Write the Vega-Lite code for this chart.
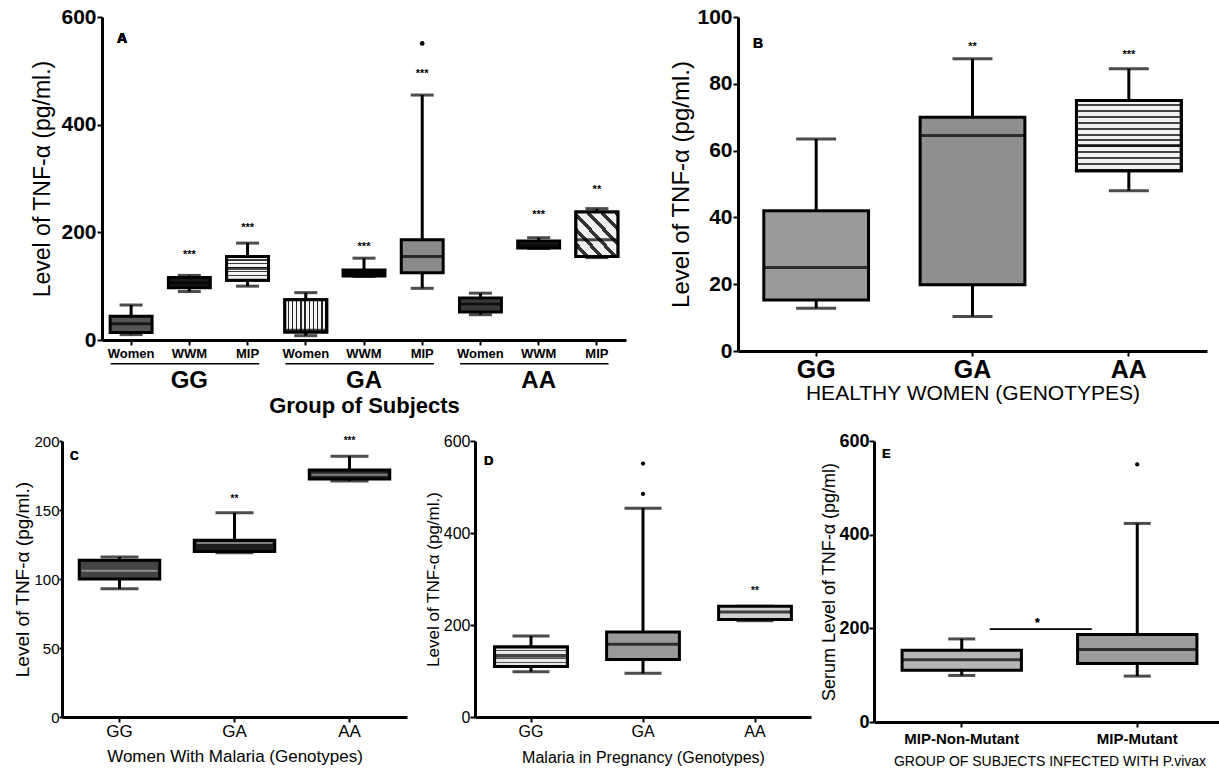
{
  "$schema": "https://vega.github.io/schema/vega-lite/v6.json",
  "background": "white",
  "padding": {"left": 13, "top": 6, "right": 0, "bottom": 0},
  "config": {
    "view": {"stroke": null},
    "font": "Liberation Sans",
    "axis": {
      "labelFont": "Liberation Sans", "titleFont": "Liberation Sans",
      "domainColor": "#000", "domainWidth": 3, "tickColor": "#000", "tickWidth": 2, "tickSize": 5,
      "labelColor": "#000", "titleColor": "#000", "grid": false, "titleFontWeight": "normal", "labelPadding": 1
    },
    "axisX": {"labelAngle": 0},
    "text": {"font": "Liberation Sans", "color": "#000"}
  },
  "datasets": {
    "A": [
      {"cat": "GG Women", "min": 10, "q1": 14, "med": 30, "q3": 44, "max": 65},
      {"cat": "GG WWM", "min": 90, "q1": 97, "med": 106, "q3": 116, "max": 120},
      {"cat": "GG MIP", "min": 100, "q1": 111, "med": 133, "q3": 155, "max": 180},
      {"cat": "GA Women", "min": 8, "q1": 15, "med": 18, "q3": 75, "max": 88},
      {"cat": "GA WWM", "min": 118, "q1": 119, "med": 124, "q3": 130, "max": 152},
      {"cat": "GA MIP", "min": 96, "q1": 125, "med": 155, "q3": 186, "max": 455},
      {"cat": "AA Women", "min": 47, "q1": 52, "med": 67, "q3": 78, "max": 87},
      {"cat": "AA WWM", "min": 170, "q1": 171, "med": 176, "q3": 184, "max": 190},
      {"cat": "AA MIP", "min": 153, "q1": 155, "med": 186, "q3": 238, "max": 244}
    ],
    "A_out": [{"cat": "GA MIP", "v": 551}],
    "A_stars": [
      {"cat": "GG WWM", "v": 158, "s": "***"},
      {"cat": "GG MIP", "v": 208, "s": "***"},
      {"cat": "GA WWM", "v": 173, "s": "***"},
      {"cat": "GA MIP", "v": 495, "s": "***"},
      {"cat": "AA WWM", "v": 232, "s": "***"},
      {"cat": "AA MIP", "v": 279, "s": "**"}
    ],
    "A_groups": [{"g": "GG"}, {"g": "GA"}, {"g": "AA"}],
    "B": [
      {"cat": "GG", "min": 12.8, "q1": 15.3, "med": 25, "q3": 42, "max": 63.5},
      {"cat": "GA", "min": 10.3, "q1": 19.8, "med": 64.5, "q3": 70, "max": 87.5},
      {"cat": "AA", "min": 48, "q1": 54, "med": 61.5, "q3": 75, "max": 84.5}
    ],
    "B_stars": [
      {"cat": "GA", "v": 91, "s": "**"},
      {"cat": "AA", "v": 88.5, "s": "***"}
    ],
    "C": [
      {"cat": "GG", "min": 93, "q1": 100, "med": 106, "q3": 113.5, "max": 116},
      {"cat": "GA", "min": 119, "q1": 120, "med": 126, "q3": 128, "max": 148},
      {"cat": "AA", "min": 171, "q1": 172.5, "med": 175.5, "q3": 179, "max": 189}
    ],
    "C_stars": [
      {"cat": "GA", "v": 158, "s": "**"},
      {"cat": "AA", "v": 200, "s": "***"}
    ],
    "D": [
      {"cat": "GG", "min": 98.5, "q1": 110, "med": 132, "q3": 152, "max": 176},
      {"cat": "GA", "min": 95, "q1": 125, "med": 158, "q3": 185, "max": 454},
      {"cat": "AA", "min": 209, "q1": 212, "med": 228, "q3": 241, "max": 241}
    ],
    "D_out": [{"cat": "GA", "v": 551}, {"cat": "GA", "v": 485}],
    "D_stars": [{"cat": "AA", "v": 273, "s": "**"}],
    "E": [
      {"cat": "MIP-Non-Mutant", "min": 99.4, "q1": 110.6, "med": 133, "q3": 153, "max": 177.4},
      {"cat": "MIP-Mutant", "min": 98, "q1": 125, "med": 155, "q3": 186.6, "max": 424}
    ],
    "E_out": [{"cat": "MIP-Mutant", "v": 550}]
  },
  "spacing": 16,
  "resolve": {"scale": {"x": "independent", "y": "independent", "fill": "independent"}},
  "vconcat": [
    {
      "spacing": 43,
      "resolve": {"scale": {"x": "independent", "y": "independent", "fill": "independent"}},
      "hconcat": [
        {
          "spacing": -32,
          "resolve": {"scale": {"x": "independent", "y": "independent", "fill": "independent"}},
          "hconcat": [
            {"width": 1, "height": 1, "data": {"values": [{}]}, "mark": {"type": "text", "text": ""}, "encoding": {}},
            {
              "width": 524, "height": 323,
              "resolve": {"scale": {"x": "independent"}, "axis": {"x": "independent"}},
              "layer": [
                {
                  "data": {"name": "A"},
                  "encoding": {
                    "x": {"field": "cat", "type": "nominal", "sort": null,
                      "scale": {"domain": ["GG Women", "GG WWM", "GG MIP", "GA Women", "GA WWM", "GA MIP", "AA Women", "AA WWM", "AA MIP"], "paddingInner": 0, "paddingOuter": 0},
                      "axis": {"title": null, "labelExpr": "split(datum.label, ' ')[1]", "labelFontSize": 13, "labelFontWeight": "bold", "labelPadding": 2}}
                  },
                  "layer": [
                    {"mark": {"type": "rule", "strokeWidth": 3, "color": "#000"},
                     "encoding": {"y": {"field": "min", "type": "quantitative", "scale": {"domain": [0, 600], "nice": false},
                       "axis": {"values": [0, 200, 400, 600], "title": "Level of TNF-α (pg/ml.)", "titleFontSize": 23, "labelFontSize": 21, "labelFontWeight": "bold", "titlePadding": 6}},
                       "y2": {"field": "max"}}},
                    {"mark": {"type": "tick", "size": 23, "thickness": 3, "color": "#000"}, "encoding": {"y": {"field": "min", "type": "quantitative"}}},
                    {"mark": {"type": "tick", "size": 23, "thickness": 3, "color": "#000"}, "encoding": {"y": {"field": "max", "type": "quantitative"}}},
                    {"mark": {"type": "bar", "width": {"band": 0.72}, "stroke": "#000", "strokeWidth": 3},
                     "encoding": {"y": {"field": "q1", "type": "quantitative"}, "y2": {"field": "q3"},
                       "fill": {"field": "cat", "type": "nominal", "legend": null,
                         "scale": {"domain": ["GG Women", "GG WWM", "GG MIP", "GA Women", "GA WWM", "GA MIP", "AA Women", "AA WWM", "AA MIP"],
                                   "range": ["#555555", "#1a1a1a", "#b5b5b5", "#a5a5a5", "#111111", "#8a8a8a", "#3a3a3a", "#222222", "#aaaaaa"]}}}},
                    {"transform": [{"filter": "datum.cat === 'GG MIP'"}],
                     "mark": {"type": "bar", "width": {"band": 0.72}, "stroke": "#000", "strokeWidth": 3,
                       "fill": {"gradient": "linear", "x1": 0, "y1": 0, "x2": 0, "y2": 1, "stops": [
                         {"offset": 0, "color": "#f4f4f4"}, {"offset": 0.117, "color": "#f4f4f4"}, {"offset": 0.117, "color": "#3a3a3a"}, {"offset": 0.167, "color": "#3a3a3a"},
                         {"offset": 0.167, "color": "#f4f4f4"}, {"offset": 0.283, "color": "#f4f4f4"}, {"offset": 0.283, "color": "#3a3a3a"}, {"offset": 0.333, "color": "#3a3a3a"},
                         {"offset": 0.333, "color": "#f4f4f4"}, {"offset": 0.45, "color": "#f4f4f4"}, {"offset": 0.45, "color": "#3a3a3a"}, {"offset": 0.5, "color": "#3a3a3a"},
                         {"offset": 0.5, "color": "#f4f4f4"}, {"offset": 0.617, "color": "#f4f4f4"}, {"offset": 0.617, "color": "#3a3a3a"}, {"offset": 0.667, "color": "#3a3a3a"},
                         {"offset": 0.667, "color": "#f4f4f4"}, {"offset": 0.783, "color": "#f4f4f4"}, {"offset": 0.783, "color": "#3a3a3a"}, {"offset": 0.833, "color": "#3a3a3a"},
                         {"offset": 0.833, "color": "#f4f4f4"}, {"offset": 0.95, "color": "#f4f4f4"}, {"offset": 0.95, "color": "#3a3a3a"}, {"offset": 1, "color": "#3a3a3a"}]}},
                     "encoding": {"y": {"field": "q1", "type": "quantitative"}, "y2": {"field": "q3"}}},
                    {"transform": [{"filter": "datum.cat === 'GA Women'"}],
                     "mark": {"type": "bar", "width": {"band": 0.72}, "stroke": "#000", "strokeWidth": 3,
                       "fill": {"gradient": "linear", "x1": 0, "y1": 0, "x2": 1, "y2": 0, "stops": [
                         {"offset": 0, "color": "#f4f4f4"}, {"offset": 0.065, "color": "#f4f4f4"}, {"offset": 0.065, "color": "#222"}, {"offset": 0.1, "color": "#222"},
                         {"offset": 0.1, "color": "#f4f4f4"}, {"offset": 0.165, "color": "#f4f4f4"}, {"offset": 0.165, "color": "#222"}, {"offset": 0.2, "color": "#222"},
                         {"offset": 0.2, "color": "#f4f4f4"}, {"offset": 0.265, "color": "#f4f4f4"}, {"offset": 0.265, "color": "#222"}, {"offset": 0.3, "color": "#222"},
                         {"offset": 0.3, "color": "#f4f4f4"}, {"offset": 0.365, "color": "#f4f4f4"}, {"offset": 0.365, "color": "#222"}, {"offset": 0.4, "color": "#222"},
                         {"offset": 0.4, "color": "#f4f4f4"}, {"offset": 0.465, "color": "#f4f4f4"}, {"offset": 0.465, "color": "#222"}, {"offset": 0.5, "color": "#222"},
                         {"offset": 0.5, "color": "#f4f4f4"}, {"offset": 0.565, "color": "#f4f4f4"}, {"offset": 0.565, "color": "#222"}, {"offset": 0.6, "color": "#222"},
                         {"offset": 0.6, "color": "#f4f4f4"}, {"offset": 0.665, "color": "#f4f4f4"}, {"offset": 0.665, "color": "#222"}, {"offset": 0.7, "color": "#222"},
                         {"offset": 0.7, "color": "#f4f4f4"}, {"offset": 0.765, "color": "#f4f4f4"}, {"offset": 0.765, "color": "#222"}, {"offset": 0.8, "color": "#222"},
                         {"offset": 0.8, "color": "#f4f4f4"}, {"offset": 0.865, "color": "#f4f4f4"}, {"offset": 0.865, "color": "#222"}, {"offset": 0.9, "color": "#222"},
                         {"offset": 0.9, "color": "#f4f4f4"}, {"offset": 0.965, "color": "#f4f4f4"}, {"offset": 0.965, "color": "#222"}, {"offset": 1, "color": "#222"}]}},
                     "encoding": {"y": {"field": "q1", "type": "quantitative"}, "y2": {"field": "q3"}}},
                    {"transform": [{"filter": "datum.cat === 'AA MIP'"}],
                     "mark": {"type": "bar", "width": {"band": 0.72}, "stroke": "#000", "strokeWidth": 3,
                       "fill": {"gradient": "linear", "x1": 0, "y1": 1, "x2": 1, "y2": 0, "stops": [
                         {"offset": 0, "color": "#f0f0f0"}, {"offset": 0.108, "color": "#f0f0f0"}, {"offset": 0.108, "color": "#333"}, {"offset": 0.167, "color": "#333"},
                         {"offset": 0.167, "color": "#f0f0f0"}, {"offset": 0.275, "color": "#f0f0f0"}, {"offset": 0.275, "color": "#333"}, {"offset": 0.333, "color": "#333"},
                         {"offset": 0.333, "color": "#f0f0f0"}, {"offset": 0.442, "color": "#f0f0f0"}, {"offset": 0.442, "color": "#333"}, {"offset": 0.5, "color": "#333"},
                         {"offset": 0.5, "color": "#f0f0f0"}, {"offset": 0.608, "color": "#f0f0f0"}, {"offset": 0.608, "color": "#333"}, {"offset": 0.667, "color": "#333"},
                         {"offset": 0.667, "color": "#f0f0f0"}, {"offset": 0.775, "color": "#f0f0f0"}, {"offset": 0.775, "color": "#333"}, {"offset": 0.833, "color": "#333"},
                         {"offset": 0.833, "color": "#f0f0f0"}, {"offset": 0.942, "color": "#f0f0f0"}, {"offset": 0.942, "color": "#333"}, {"offset": 1, "color": "#333"}]}},
                     "encoding": {"y": {"field": "q1", "type": "quantitative"}, "y2": {"field": "q3"}}},
                    {"mark": {"type": "tick", "size": 42, "thickness": 3, "color": "#000"}, "encoding": {"y": {"field": "med", "type": "quantitative"}}},
                    {"data": {"name": "A_out"}, "mark": {"type": "point", "filled": true, "size": 22, "color": "#000", "opacity": 1},
                     "encoding": {"y": {"field": "v", "type": "quantitative"}}},
                    {"data": {"name": "A_stars"}, "mark": {"type": "text", "fontSize": 11, "fontWeight": "bold"},
                     "encoding": {"y": {"field": "v", "type": "quantitative"}, "text": {"field": "s"}}},
                    {"mark": {"type": "text", "text": "A", "fontSize": 14, "fontWeight": "bold", "align": "left"},
                     "encoding": {"x": {"datum": "GG Women"}, "xOffset": {"value": 15}, "y": {"datum": 559}}}
                  ]
                },
                {
                  "data": {"name": "A_groups"},
                  "mark": {"type": "rule", "strokeWidth": 1.5, "color": "#000"},
                  "encoding": {
                    "x": {"field": "g", "type": "nominal", "sort": null, "bandPosition": 0.05,
                      "scale": {"domain": ["GG", "GA", "AA"], "paddingInner": 0, "paddingOuter": 0},
                      "axis": {"orient": "bottom", "offset": 28, "domain": false, "ticks": false, "labelPadding": 0,
                        "labelFontSize": 24, "labelFontWeight": "bold", "title": "Group of Subjects", "titleFontSize": 22, "titleFontWeight": "bold", "titlePadding": 3}},
                    "x2": {"field": "g", "bandPosition": 0.9},
                    "y": {"datum": -44}
                  }
                }
              ]
            }
          ]
        },
        {
          "width": 469, "height": 334,
          "data": {"name": "B"},
          "encoding": {
            "x": {"field": "cat", "type": "nominal", "sort": null,
              "scale": {"domain": ["GG", "GA", "AA"], "paddingInner": 0, "paddingOuter": 0},
              "axis": {"title": "HEALTHY WOMEN (GENOTYPES)", "titleFontSize": 21, "labelFontSize": 25, "labelFontWeight": "bold", "labelPadding": 1, "titlePadding": 0}}
          },
          "layer": [
            {"mark": {"type": "rule", "strokeWidth": 3, "color": "#000"},
             "encoding": {"y": {"field": "min", "type": "quantitative", "scale": {"domain": [0, 100], "nice": false},
               "axis": {"values": [0, 20, 40, 60, 80, 100], "title": "Level of TNF-α (pg/ml.)", "titleFontSize": 24, "labelFontSize": 21, "labelFontWeight": "bold", "titlePadding": 3}},
               "y2": {"field": "max"}}},
            {"mark": {"type": "tick", "size": 40, "thickness": 3, "color": "#000"}, "encoding": {"y": {"field": "min", "type": "quantitative"}}},
            {"mark": {"type": "tick", "size": 40, "thickness": 3, "color": "#000"}, "encoding": {"y": {"field": "max", "type": "quantitative"}}},
            {"mark": {"type": "bar", "width": {"band": 0.67}, "stroke": "#000", "strokeWidth": 3},
             "encoding": {"y": {"field": "q1", "type": "quantitative"}, "y2": {"field": "q3"},
               "fill": {"field": "cat", "type": "nominal", "legend": null,
                 "scale": {"domain": ["GG", "GA", "AA"], "range": ["#9a9a9a", "#8f8f8f", "#c4c4c4"]}}}},
            {"transform": [{"filter": "datum.cat === 'AA'"}],
             "mark": {"type": "bar", "width": {"band": 0.67}, "stroke": "#000", "strokeWidth": 3,
               "fill": {"gradient": "linear", "x1": 0, "y1": 0, "x2": 0, "y2": 1, "stops": [
                 {"offset": 0, "color": "#f2f2f2"}, {"offset": 0.055, "color": "#f2f2f2"}, {"offset": 0.055, "color": "#444"}, {"offset": 0.0833, "color": "#444"},
                 {"offset": 0.0833, "color": "#f2f2f2"}, {"offset": 0.138, "color": "#f2f2f2"}, {"offset": 0.138, "color": "#444"}, {"offset": 0.1667, "color": "#444"},
                 {"offset": 0.1667, "color": "#f2f2f2"}, {"offset": 0.222, "color": "#f2f2f2"}, {"offset": 0.222, "color": "#444"}, {"offset": 0.25, "color": "#444"},
                 {"offset": 0.25, "color": "#f2f2f2"}, {"offset": 0.305, "color": "#f2f2f2"}, {"offset": 0.305, "color": "#444"}, {"offset": 0.3333, "color": "#444"},
                 {"offset": 0.3333, "color": "#f2f2f2"}, {"offset": 0.388, "color": "#f2f2f2"}, {"offset": 0.388, "color": "#444"}, {"offset": 0.4167, "color": "#444"},
                 {"offset": 0.4167, "color": "#f2f2f2"}, {"offset": 0.472, "color": "#f2f2f2"}, {"offset": 0.472, "color": "#444"}, {"offset": 0.5, "color": "#444"},
                 {"offset": 0.5, "color": "#f2f2f2"}, {"offset": 0.555, "color": "#f2f2f2"}, {"offset": 0.555, "color": "#444"}, {"offset": 0.5833, "color": "#444"},
                 {"offset": 0.5833, "color": "#f2f2f2"}, {"offset": 0.638, "color": "#f2f2f2"}, {"offset": 0.638, "color": "#444"}, {"offset": 0.6667, "color": "#444"},
                 {"offset": 0.6667, "color": "#f2f2f2"}, {"offset": 0.722, "color": "#f2f2f2"}, {"offset": 0.722, "color": "#444"}, {"offset": 0.75, "color": "#444"},
                 {"offset": 0.75, "color": "#f2f2f2"}, {"offset": 0.805, "color": "#f2f2f2"}, {"offset": 0.805, "color": "#444"}, {"offset": 0.8333, "color": "#444"},
                 {"offset": 0.8333, "color": "#f2f2f2"}, {"offset": 0.888, "color": "#f2f2f2"}, {"offset": 0.888, "color": "#444"}, {"offset": 0.9167, "color": "#444"},
                 {"offset": 0.9167, "color": "#f2f2f2"}, {"offset": 0.972, "color": "#f2f2f2"}, {"offset": 0.972, "color": "#444"}, {"offset": 1, "color": "#444"}]}},
             "encoding": {"y": {"field": "q1", "type": "quantitative"}, "y2": {"field": "q3"}}},
            {"mark": {"type": "tick", "size": 105, "thickness": 3, "color": "#000"}, "encoding": {"y": {"field": "med", "type": "quantitative"}}},
            {"data": {"name": "B_stars"}, "mark": {"type": "text", "fontSize": 11, "fontWeight": "bold"},
             "encoding": {"y": {"field": "v", "type": "quantitative"}, "text": {"field": "s"}}},
            {"mark": {"type": "text", "text": "B", "fontSize": 14, "fontWeight": "bold", "align": "left"},
             "encoding": {"x": {"datum": "GG"}, "xOffset": {"value": 15}, "y": {"datum": 92}}}
          ]
        }
      ]
    },
    {
      "spacing": 9,
      "resolve": {"scale": {"x": "independent", "y": "independent", "fill": "independent"}},
      "hconcat": [
        {
          "spacing": 17,
          "resolve": {"scale": {"x": "independent", "y": "independent", "fill": "independent"}},
          "hconcat": [
            {
              "width": 345, "height": 276,
              "data": {"name": "C"},
              "encoding": {
                "x": {"field": "cat", "type": "nominal", "sort": null,
                  "scale": {"domain": ["GG", "GA", "AA"], "paddingInner": 0, "paddingOuter": 0},
                  "axis": {"title": "Women With Malaria (Genotypes)", "titleFontSize": 17, "labelFontSize": 17, "labelPadding": 1, "titlePadding": 9}}
              },
              "layer": [
                {"mark": {"type": "rule", "strokeWidth": 3, "color": "#000"},
                 "encoding": {"y": {"field": "min", "type": "quantitative", "scale": {"domain": [0, 200], "nice": false},
                   "axis": {"values": [0, 50, 100, 150, 200], "title": "Level of TNF-α (pg/ml.)", "titleFontSize": 19, "labelFontSize": 15, "tickSize": 3, "labelPadding": 0, "titlePadding": 1}},
                   "y2": {"field": "max"}}},
                {"mark": {"type": "tick", "size": 38, "thickness": 3, "color": "#000"}, "encoding": {"y": {"field": "min", "type": "quantitative"}}},
                {"mark": {"type": "tick", "size": 38, "thickness": 3, "color": "#000"}, "encoding": {"y": {"field": "max", "type": "quantitative"}}},
                {"mark": {"type": "bar", "width": {"band": 0.7}, "stroke": "#000", "strokeWidth": 3},
                 "encoding": {"y": {"field": "q1", "type": "quantitative"}, "y2": {"field": "q3"},
                   "fill": {"field": "cat", "type": "nominal", "legend": null,
                     "scale": {"domain": ["GG", "GA", "AA"], "range": ["#444444", "#1e1e1e", "#262626"]}}}},
                {"mark": {"type": "tick", "size": 76, "thickness": 2, "color": "#aaa"}, "encoding": {"y": {"field": "med", "type": "quantitative"}}},
                {"data": {"name": "C_stars"}, "mark": {"type": "text", "fontSize": 10, "fontWeight": "bold"},
                 "encoding": {"y": {"field": "v", "type": "quantitative"}, "text": {"field": "s"}}},
                {"mark": {"type": "text", "text": "C", "fontSize": 12, "fontWeight": "bold", "align": "left"},
                 "encoding": {"x": {"datum": "GG"}, "xOffset": {"value": 8}, "y": {"datum": 189}}}
              ]
            },
            {
              "width": 336, "height": 276,
              "data": {"name": "D"},
              "encoding": {
                "x": {"field": "cat", "type": "nominal", "sort": null,
                  "scale": {"domain": ["GG", "GA", "AA"], "paddingInner": 0, "paddingOuter": 0},
                  "axis": {"title": "Malaria in Pregnancy (Genotypes)", "titleFontSize": 16, "labelFontSize": 16, "labelPadding": 1, "titlePadding": 10}}
              },
              "layer": [
                {"mark": {"type": "rule", "strokeWidth": 3, "color": "#000"},
                 "encoding": {"y": {"field": "min", "type": "quantitative", "scale": {"domain": [0, 600], "nice": false},
                   "axis": {"values": [0, 200, 400, 600], "title": "Level of TNF-α (pg/ml.)", "titleFontSize": 17, "labelFontSize": 16, "labelPadding": 0, "titlePadding": 1}},
                   "y2": {"field": "max"}}},
                {"mark": {"type": "tick", "size": 37, "thickness": 3, "color": "#000"}, "encoding": {"y": {"field": "min", "type": "quantitative"}}},
                {"mark": {"type": "tick", "size": 37, "thickness": 3, "color": "#000"}, "encoding": {"y": {"field": "max", "type": "quantitative"}}},
                {"mark": {"type": "bar", "width": {"band": 0.65}, "stroke": "#000", "strokeWidth": 3},
                 "encoding": {"y": {"field": "q1", "type": "quantitative"}, "y2": {"field": "q3"},
                   "fill": {"field": "cat", "type": "nominal", "legend": null,
                     "scale": {"domain": ["GG", "GA", "AA"], "range": ["#b8b8b8", "#9a9a9a", "#d0d0d0"]}}}},
                {"transform": [{"filter": "datum.cat === 'GG'"}],
                 "mark": {"type": "bar", "width": {"band": 0.65}, "stroke": "#000", "strokeWidth": 3,
                   "fill": {"gradient": "linear", "x1": 0, "y1": 0, "x2": 0, "y2": 1, "stops": [
                     {"offset": 0, "color": "#e8e8e8"}, {"offset": 0.15, "color": "#e8e8e8"}, {"offset": 0.15, "color": "#555"}, {"offset": 0.2, "color": "#555"},
                     {"offset": 0.2, "color": "#e8e8e8"}, {"offset": 0.35, "color": "#e8e8e8"}, {"offset": 0.35, "color": "#555"}, {"offset": 0.4, "color": "#555"},
                     {"offset": 0.4, "color": "#e8e8e8"}, {"offset": 0.55, "color": "#e8e8e8"}, {"offset": 0.55, "color": "#555"}, {"offset": 0.6, "color": "#555"},
                     {"offset": 0.6, "color": "#e8e8e8"}, {"offset": 0.75, "color": "#e8e8e8"}, {"offset": 0.75, "color": "#555"}, {"offset": 0.8, "color": "#555"},
                     {"offset": 0.8, "color": "#e8e8e8"}, {"offset": 0.95, "color": "#e8e8e8"}, {"offset": 0.95, "color": "#555"}, {"offset": 1, "color": "#555"}]}},
                 "encoding": {"y": {"field": "q1", "type": "quantitative"}, "y2": {"field": "q3"}}},
                {"mark": {"type": "tick", "size": 73, "thickness": 3, "color": "#000"}, "encoding": {"y": {"field": "med", "type": "quantitative"}}},
                {"data": {"name": "D_out"}, "mark": {"type": "point", "filled": true, "size": 18, "color": "#000", "opacity": 1},
                 "encoding": {"y": {"field": "v", "type": "quantitative"}}},
                {"data": {"name": "D_stars"}, "mark": {"type": "text", "fontSize": 10, "fontWeight": "bold"},
                 "encoding": {"y": {"field": "v", "type": "quantitative"}, "text": {"field": "s"}}},
                {"mark": {"type": "text", "text": "D", "fontSize": 13, "fontWeight": "bold", "align": "left"},
                 "encoding": {"x": {"datum": "GG"}, "xOffset": {"value": 9}, "y": {"datum": 557}}}
              ]
            }
          ]
        },
        {
          "width": 351, "height": 281,
          "data": {"name": "E"},
          "encoding": {
            "x": {"field": "cat", "type": "nominal", "sort": null,
              "scale": {"domain": ["MIP-Non-Mutant", "MIP-Mutant"], "paddingInner": 0, "paddingOuter": 0},
              "axis": {"title": "GROUP OF SUBJECTS INFECTED WITH P.vivax", "titleFontSize": 14, "labelFontSize": 15, "labelFontWeight": "bold", "labelPadding": 4, "titlePadding": 8}}
          },
          "layer": [
            {"mark": {"type": "rule", "strokeWidth": 3, "color": "#000"},
             "encoding": {"y": {"field": "min", "type": "quantitative", "scale": {"domain": [0, 600], "nice": false},
               "axis": {"values": [0, 200, 400, 600], "title": "Serum Level of TNF-α (pg/ml)", "titleFontSize": 18, "labelFontSize": 18, "labelFontWeight": "bold", "labelPadding": 0, "titlePadding": 0}},
               "y2": {"field": "max"}}},
            {"mark": {"type": "tick", "size": 27, "thickness": 3, "color": "#000"}, "encoding": {"y": {"field": "min", "type": "quantitative"}}},
            {"mark": {"type": "tick", "size": 27, "thickness": 3, "color": "#000"}, "encoding": {"y": {"field": "max", "type": "quantitative"}}},
            {"mark": {"type": "bar", "width": {"band": 0.68}, "stroke": "#000", "strokeWidth": 3},
             "encoding": {"y": {"field": "q1", "type": "quantitative"}, "y2": {"field": "q3"},
               "fill": {"field": "cat", "type": "nominal", "legend": null,
                 "scale": {"domain": ["MIP-Non-Mutant", "MIP-Mutant"], "range": ["#b5b5b5", "#9c9c9c"]}}}},
            {"mark": {"type": "tick", "size": 120, "thickness": 3, "color": "#000"}, "encoding": {"y": {"field": "med", "type": "quantitative"}}},
            {"data": {"name": "E_out"}, "mark": {"type": "point", "filled": true, "size": 18, "color": "#000", "opacity": 1},
             "encoding": {"y": {"field": "v", "type": "quantitative"}}},
            {"mark": {"type": "rule", "strokeWidth": 1.5, "color": "#000"},
             "encoding": {"x": {"datum": "MIP-Non-Mutant", "bandPosition": 0.66}, "x2": {"datum": "MIP-Mutant", "bandPosition": 0.24}, "y": {"datum": 198}}},
            {"mark": {"type": "text", "text": "*", "fontSize": 12, "fontWeight": "bold"},
             "encoding": {"x": {"datum": "MIP-Non-Mutant", "bandPosition": 0.93}, "y": {"datum": 212}}},
            {"mark": {"type": "text", "text": "E", "fontSize": 13, "fontWeight": "bold", "align": "left"},
             "encoding": {"x": {"datum": "MIP-Non-Mutant"}, "xOffset": {"value": 8}, "y": {"datum": 572}}}
          ]
        }
      ]
    }
  ]
}
